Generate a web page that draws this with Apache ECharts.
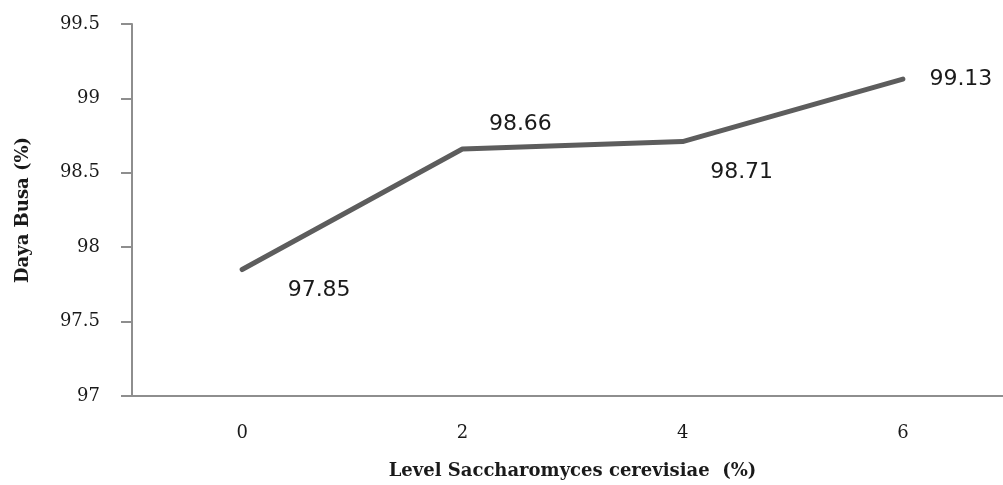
<!DOCTYPE html>
<html>
<head>
<meta charset="utf-8">
<script src="https://cdn.jsdelivr.net/npm/echarts@6/dist/echarts.min.js"></script>
<style>
  html, body { margin: 0; padding: 0; background: #fff; }
  #chart { width: 1003px; height: 485px; }
</style>
</head>
<body>
<div id="chart"></div>
<script>
// Saccharomyces cerevisiae level (%) on the category axis
const levels = ['0', '2', '4', '6'];
// Foaming capacity (%) per level
const dayaBusa = [97.85, 98.66, 98.71, 99.13];
// Y axis range and step
const yMin = 97, yMax = 99.5, yStep = 0.5;
// Where each value label sits relative to its point (px)
const labelOffsets = [[77, 21], [58, -25], [59, 31], [58, 0]];

const chart = echarts.init(document.getElementById('chart'), null, { renderer: 'canvas' });

const serif = '"DejaVu Serif", "Liberation Serif", serif';
const axisGrey = '#8e8e8e';

chart.setOption({
  animation: false,
  backgroundColor: '#ffffff',
  // plot area runs a little past the right edge of the canvas
  grid: { left: 132, width: 881, top: 24, height: 372, containLabel: false, outerBoundsMode: 'none' },
  xAxis: {
    type: 'category',
    data: levels,
    boundaryGap: true,
    name: 'Level Saccharomyces cerevisiae  (%)',
    nameLocation: 'middle',
    nameGap: 66,
    nameTextStyle: { fontFamily: serif, fontWeight: 'bold', fontSize: 18, color: '#1a1a1a' },
    axisLine: { show: true, lineStyle: { color: axisGrey, width: 2 } },
    axisTick: { show: false },
    axisLabel: { margin: 28, fontFamily: serif, fontSize: 18, color: '#1a1a1a' },
    splitLine: { show: false }
  },
  yAxis: {
    type: 'value',
    min: yMin,
    max: yMax,
    interval: yStep,
    name: 'Daya Busa (%)',
    nameLocation: 'middle',
    nameGap: 100,
    nameTextStyle: { fontFamily: serif, fontWeight: 'bold', fontSize: 18, color: '#1a1a1a' },
    axisLine: { show: true, lineStyle: { color: axisGrey, width: 2 } },
    axisTick: { show: true, inside: false, length: 11, lineStyle: { color: axisGrey, width: 2 } },
    axisLabel: { margin: 32, fontFamily: serif, fontSize: 18, color: '#1a1a1a' },
    splitLine: { show: false }
  },
  series: [{
    type: 'line',
    data: dayaBusa.map((v, i) => ({
      value: v,
      label: { offset: labelOffsets[i] }
    })),
    symbol: 'circle',
    symbolSize: 1,
    showSymbol: true,
    itemStyle: { color: '#5d5d5d' },
    lineStyle: { color: '#5d5d5d', width: 5, cap: 'round', join: 'round' },
    label: {
      show: true,
      position: 'inside',
      align: 'center',
      verticalAlign: 'middle',
      fontFamily: '"DejaVu Sans", Verdana, sans-serif',
      fontSize: 22,
      color: '#1a1a1a',
      formatter: p => p.value.toFixed(2)
    }
  }]
});
</script>
</body>
</html>
